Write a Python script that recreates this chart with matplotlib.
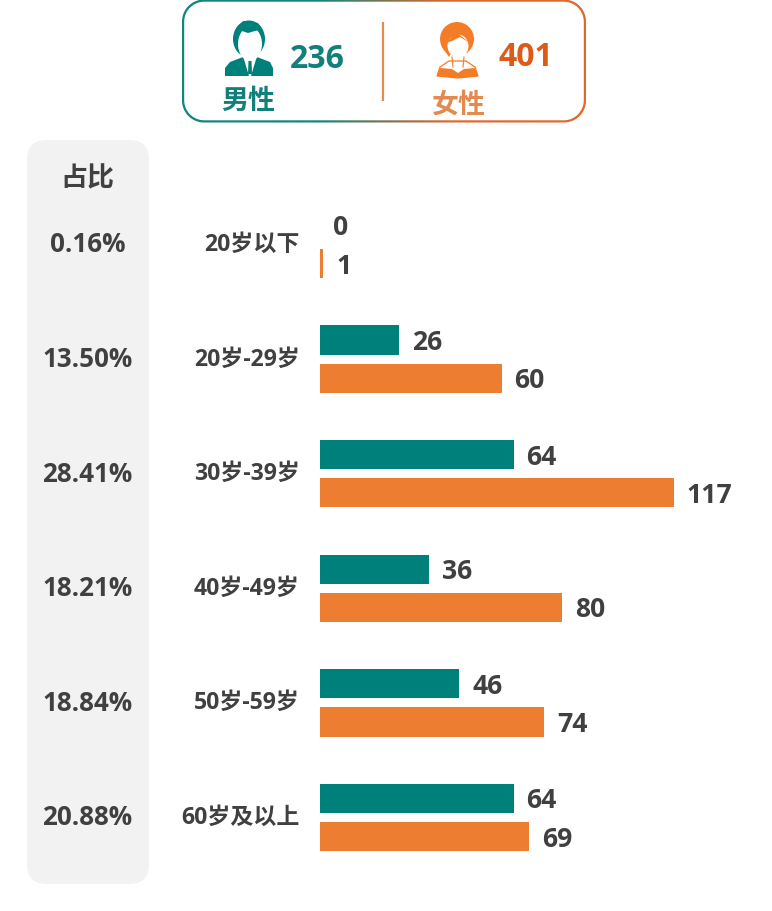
import numpy as np
import matplotlib
matplotlib.use('Agg')
import matplotlib.pyplot as plt
from matplotlib.patches import FancyBboxPatch, Ellipse, Polygon, Circle
from matplotlib.path import Path
from matplotlib.colors import LinearSegmentedColormap
from matplotlib.transforms import ScaledTranslation

# data
ages = ['20岁以下', '20岁-29岁', '30岁-39岁', '40岁-49岁', '50岁-59岁', '60岁及以上']
male = [0, 26, 64, 36, 46, 64]
female = [1, 60, 117, 80, 74, 69]
shares = ['0.16%', '13.50%', '28.41%', '18.21%', '18.84%', '20.88%']
male_total = '236'
female_total = '401'

TEAL = '#00807a'
ORANGE = '#ed7d31'
DARK = '#404040'
FONT = ['Open Sans', 'Noto Sans CJK SC', 'DejaVu Sans']
W, H = 772, 912
plt.rcParams['font.family'] = FONT
plt.rcParams['font.weight'] = 'bold'


def px(n):
    # font size in points for n pixels
    return n * 72 / 100


def round_rect(x0, x1, y0, y1, r):
    # closed rounded rectangle as a vertex list
    t = np.linspace(0, np.pi / 2, 16)
    xs = np.r_[x1 - r + r * np.sin(t), x1 - r + r * np.cos(t), x0 + r - r * np.sin(t), x0 + r - r * np.cos(t)]
    ys = np.r_[y0 + r - r * np.cos(t), y1 - r + r * np.sin(t), y1 - r + r * np.cos(t), y0 + r - r * np.sin(t)]
    return np.column_stack([xs, ys])


fig = plt.figure(figsize=(W / 100, H / 100), dpi=100)

# overlay in pixel coordinates for the decorations
bg = fig.add_axes([0, 0, 1, 1])
bg.axis('off')

# grey column
bg.add_patch(FancyBboxPatch((47, 161), 82, 704, boxstyle='round,pad=20,rounding_size=20',
                            fc='#f2f2f2', ec='none'))
bg.text(87, 179, '占比', ha='center', va='center', fontsize=px(27), color=DARK)
for i, s in enumerate(shares):
    bg.text(87.5, 245 + i * 114.6, s, ha='center', va='center', fontsize=px(26), color=DARK)

# legend frame, a gradient image clipped to a ring
outer = round_rect(182, 586, 0.5, 123.5, 22)
inner = round_rect(184.2, 583.8, 2.7, 121.3, 20)
verts = np.vstack([outer, outer[:1], inner[::-1], inner[-1:]])
codes = [Path.MOVETO] + [Path.LINETO] * (len(outer) - 1) + [Path.CLOSEPOLY]
codes = codes + [Path.MOVETO] + [Path.LINETO] * (len(inner) - 1) + [Path.CLOSEPOLY]
cmap = LinearSegmentedColormap.from_list('frame', ['#12857d', '#12857d', '#e0682c', '#e0682c'])
im = bg.imshow(np.linspace(0, 1, 256).reshape(1, -1), extent=(182, 586, 124, 0), cmap=cmap, aspect='auto')
bg.set_xlim(0, W)
bg.set_ylim(H, 0)
im.set_clip_path(Path(verts, codes), bg.transData)
bg.plot([383, 383], [23, 102], color='#e58a4e', lw=1.6, solid_capstyle='butt')

# man icon
bg.add_patch(Polygon([(225, 77), (225, 69), (230, 63), (243, 58), (250, 62), (257, 58), (270, 63), (273, 69), (273, 77)],
                     fc=TEAL, ec='none'))
bg.add_patch(Ellipse((249, 40), 32, 37, fc=TEAL, ec='none'))
bg.add_patch(Ellipse((250, 45), 24, 34, fc='white', ec='none'))
bg.add_patch(Polygon([(243, 57), (250, 62), (257, 57), (251, 77), (249, 77)], fc='white', ec='none'))
bg.add_patch(Polygon([(248.5, 62), (251.5, 62), (252, 75), (248, 75)], fc=TEAL, ec='none'))
bg.add_patch(Polygon([(236, 30), (248, 34), (262, 30), (258, 24), (243, 22)], fc=TEAL, ec='none'))

# woman icon
woman = '#f57c26'
bg.add_patch(Polygon([(437, 77), (440, 68), (449, 62), (466, 62), (475, 68), (478, 77), (458, 79)],
                     fc='white', ec=woman, lw=0.9))
bg.add_patch(Polygon([(437, 77), (440, 69), (452, 70), (458, 74), (464, 70), (475, 69), (478, 77), (458, 79)],
                     fc=woman, ec='none'))
bg.add_patch(Circle((457, 40), 17, fc=woman, ec='none'))
bg.add_patch(Polygon([(442, 48), (449, 58), (453, 50)], fc=woman, ec='none'))
bg.add_patch(Ellipse((458, 47), 21, 23, fc='white', ec='none'))
bg.add_patch(Polygon([(446, 44), (456, 33), (470, 44), (460, 38), (452, 42)], fc=woman, ec='none'))
bg.plot([452, 453], [58, 68], color=woman, lw=0.8)
bg.plot([464, 463], [58, 68], color=woman, lw=0.8)

# legend text
bg.text(317, 59, male_total, ha='center', va='center', fontsize=px(32), color='#12807a')
bg.text(526, 57, female_total, ha='center', va='center', fontsize=px(32), color='#dd5a18')
bg.text(248, 102, '男性', ha='center', va='center', fontsize=px(27), color='#12807a')
bg.text(459, 106, '女性', ha='center', va='center', fontsize=px(27), color='#e58a4e')

# bars, one data unit = 3.02 px in x and one group = 114.6 px in y
ax_left, ax_right, ax_top, ax_bottom = 320, 772, 187, 875
ax = fig.add_axes([ax_left / W, 1 - ax_bottom / H, (ax_right - ax_left) / W, (ax_bottom - ax_top) / H])
ax.patch.set_alpha(0)
ax.set_xlim(0, (ax_right - ax_left) / 3.025)
ax.set_ylim((ax_bottom - 245.5) / 114.6, (ax_top - 245.5) / 114.6)
pos = np.arange(len(ages))
ax.barh(pos - 0.167, male, height=0.255, color=TEAL)
ax.barh(pos + 0.167, female, height=0.255, color=ORANGE)
for p, m, f in zip(pos, male, female):
    ax.annotate(str(m), (m, p - 0.167), xytext=(px(13), px(-2)), textcoords='offset points',
                va='center', ha='left', fontsize=px(26.5), color=DARK)
    ax.annotate(str(f), (f, p + 0.167), xytext=(px(13), px(-2)), textcoords='offset points',
                va='center', ha='left', fontsize=px(26.5), color=DARK)
ax.set_xticks([])
ax.set_yticks(pos)
ax.set_yticklabels(ages, fontsize=px(23), color=DARK)
ax.tick_params(axis='y', length=0, pad=px(20))
# tick labels sit a little high against the bars
shift = ScaledTranslation(0, 3.5 / 100, fig.dpi_scale_trans)
for lab in ax.get_yticklabels():
    lab.set_transform(lab.get_transform() + shift)
for s in ax.spines.values():
    s.set_visible(False)

plt.savefig('out.png', dpi=100)
